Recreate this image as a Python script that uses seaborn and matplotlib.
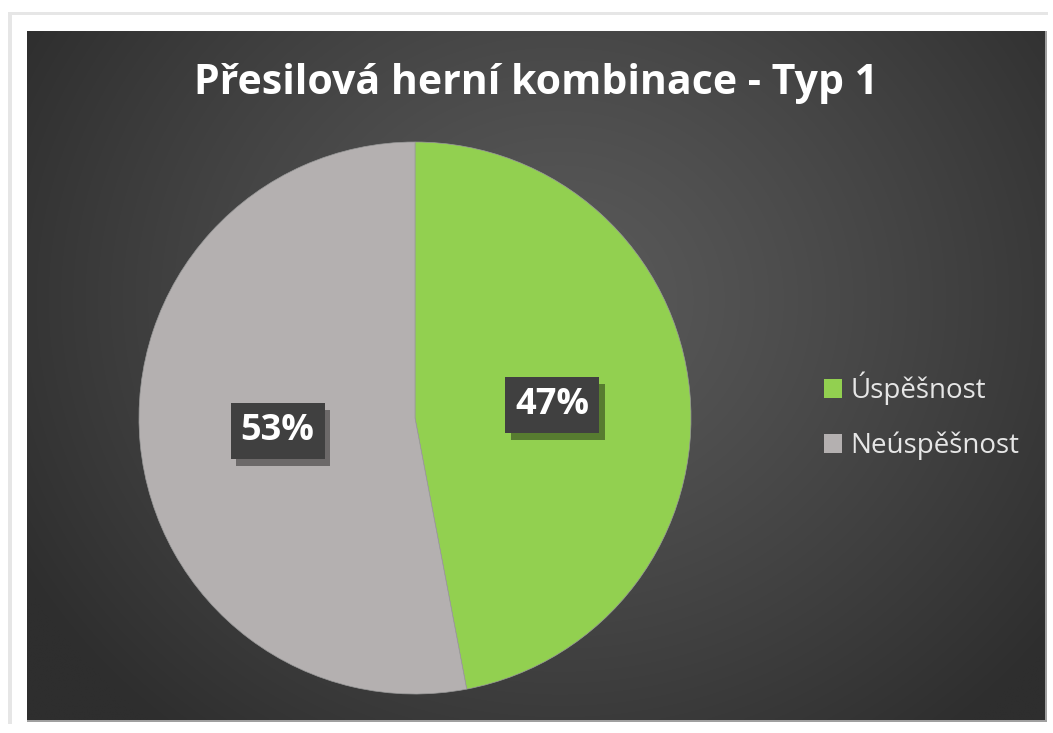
import numpy as np
import matplotlib
matplotlib.use("Agg")
import matplotlib.pyplot as plt
import matplotlib.patches as mpatches
import matplotlib.patheffects as pe
import seaborn as sns

# Chart data
categories = ["Úspěšnost", "Neúspěšnost"]
shares = [47, 53]
colors = ["#92d050", "#b4b0b0"]
title = "Přesilová herní kombinace - Typ 1"

sns.set_theme(style="white")
plt.rcParams["font.family"] = ["Open Sans", "DejaVu Sans"]

W, H = 1053, 733
fig = plt.figure(figsize=(W / 100, H / 100), dpi=100, facecolor="white")

# Backdrop: white card with soft shadow and a dark radial-gradient plot area
bg = fig.add_axes([0, 0, 1, 1])
bg.set_xlim(0, W)
bg.set_ylim(H, 0)
bg.axis("off")
bg.add_patch(mpatches.Rectangle((8, 12), 1040, 712, facecolor="#e6e6e6", edgecolor="none"))
bg.add_patch(mpatches.Rectangle((12, 15), 1045, 725, facecolor="white", edgecolor="none"))
bg.add_patch(mpatches.Rectangle((27, 31), 1020, 691, facecolor="#a0a0a0", edgecolor="none"))

x0, x1, y0, y1 = 27, 1045, 31, 720
xx, yy = np.meshgrid(np.linspace(x0, x1, 400), np.linspace(y0, y1, 300))
cx, cy = 560, 300
d = np.sqrt(((xx - cx) / 620) ** 2 + ((yy - cy) / 560) ** 2)
d = np.clip(d, 0, 1)
inner, outer = 0x5a / 255, 0x2e / 255
val = inner + (outer - inner) * d ** 1.2
img = np.dstack([val, val, val])
bg.imshow(img, extent=(x0, x1, y1, y0), aspect="auto", interpolation="bilinear", zorder=2)

# Title
fig.text(536 / W, 1 - 83 / H, title, color="white", fontsize=29.5, fontweight="bold",
         ha="center", va="center")

# Pie
cxp, cyp, r = 415, 418, 276
ax = fig.add_axes([(cxp - r) / W, (H - cyp - r) / H, 2 * r / W, 2 * r / H])
ax.set_facecolor("none")
wedges, _, autotexts = ax.pie(
    shares, colors=colors, startangle=90, counterclock=False, radius=1,
    autopct=lambda p: f"{p:.0f}%", pctdistance=0.5,
    wedgeprops=dict(linewidth=0.5, edgecolor="#9a9a9a"),
)
ax.set_xlim(-1, 1)
ax.set_ylim(-1, 1)
ax.set_aspect("equal")
for t in autotexts:
    t.set_color("white")
    t.set_fontsize(26)
    t.set_fontweight("bold")
    t.set_bbox(dict(boxstyle="square,pad=0.28", facecolor="#404040", edgecolor="none"))
    t.get_bbox_patch().set_path_effects(
        [pe.SimplePatchShadow(offset=(4, -5), shadow_rgbFace="black", alpha=0.4), pe.Normal()]
    )

# Legend
handles = [mpatches.Patch(facecolor=c, edgecolor="none", label=l) for c, l in zip(colors, categories)]
leg = fig.legend(handles=handles, loc="center left", bbox_to_anchor=(824 / W, 1 - 416 / H),
                 frameon=False, fontsize=20, handlelength=0.65, handleheight=0.65,
                 handletextpad=0.3, labelspacing=0.95, borderaxespad=0, borderpad=0)
for txt in leg.get_texts():
    txt.set_color("#e6e6e6")

fig.savefig("out.png", dpi=100, facecolor="white")
